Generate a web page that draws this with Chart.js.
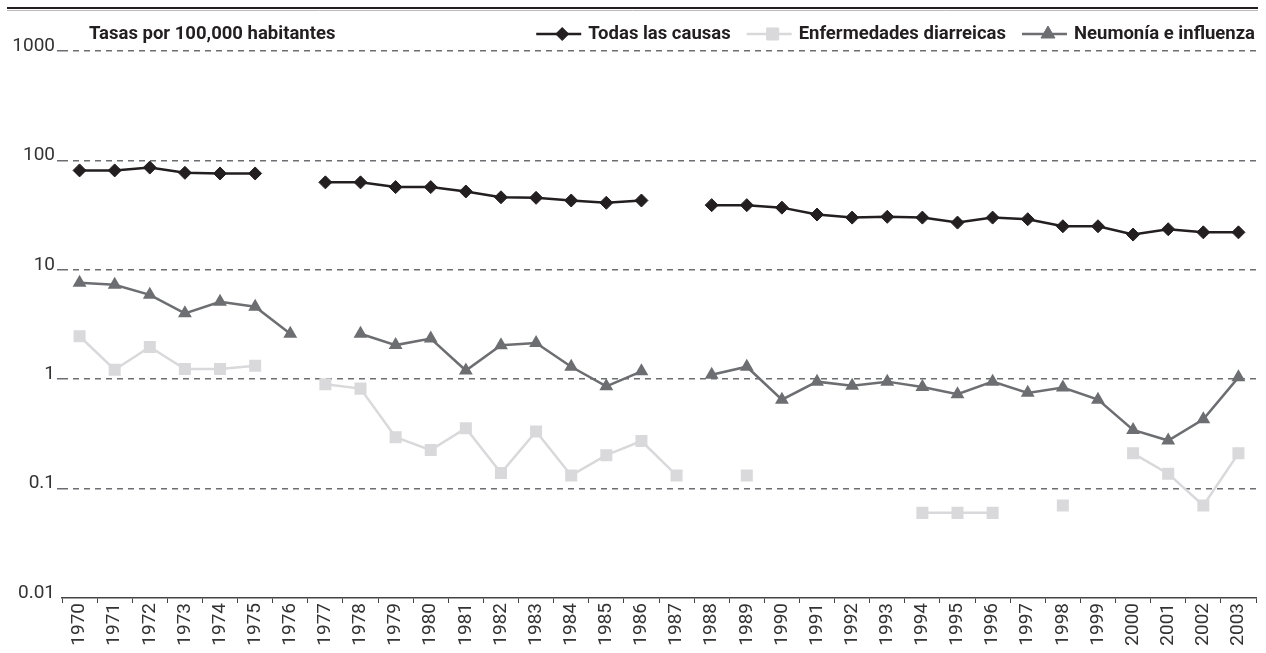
<!DOCTYPE html>
<html><head><meta charset="utf-8">
<script src="https://cdn.jsdelivr.net/npm/chart.js@4.4.0/dist/chart.umd.min.js"></script>
<style>html,body{margin:0;padding:0;background:#fff;}#wrap{width:1266px;height:653px;}</style>
</head><body><div id="wrap"><canvas id="c" width="1266" height="653"></canvas></div>
<script>
const years = ['1970','1971','1972','1973','1974','1975','1976','1977','1978','1979','1980','1981','1982','1983','1984','1985','1986','1987','1988','1989','1990','1991','1992','1993','1994','1995','1996','1997','1998','1999','2000','2001','2002','2003'];
const todasLasCausas = [81,81,86,77,76,76,null,63,63,57,57,52,46,45.5,43,41,43,null,39,39,37,32,30,30.5,30,27,30,29,25,25,21,23.5,22,22];
const enfermedadesDiarreicas = [2.47,1.22,1.97,1.24,1.24,1.33,null,0.9,0.82,0.295,0.225,0.357,0.139,0.333,0.132,0.202,0.272,0.132,null,0.132,null,null,null,null,0.06,0.06,0.06,null,0.07,null,0.21,0.137,0.07,0.21];
const neumoniaInfluenza = [7.6,7.3,5.9,4.0,5.1,4.6,2.6,null,2.6,2.05,2.35,1.2,2.04,2.14,1.3,0.86,1.18,null,1.1,1.3,0.65,0.95,0.87,0.95,0.85,0.73,0.95,0.75,0.84,0.65,0.344,0.275,0.43,1.04];
const yTickValues = [0.01,0.1,1,10,100,1000];
const yTickLabels = ['0.01','0.1','1','10','100','1000'];
const seriesNames = ['Todas las causas','Enfermedades diarreicas','Neumonía e influenza'];
const titleText = 'Tasas por 100,000 habitantes';

const FONT = 'Roboto';

const headerPlugin = {
  id: 'header',
  afterDraw(chart) {
    const ctx = chart.ctx;
    ctx.save();
    ctx.setLineDash([]);
    ctx.strokeStyle = '#231f20'; ctx.lineWidth = 2;
    ctx.beginPath(); ctx.moveTo(7, 8); ctx.lineTo(1258, 8); ctx.stroke();
    ctx.strokeStyle = '#bbbbbb'; ctx.lineWidth = 1;
    ctx.beginPath(); ctx.moveTo(7, 10.5); ctx.lineTo(1258, 10.5); ctx.stroke();
    ctx.font = 'bold 18.5px ' + FONT;
    ctx.fillStyle = '#231f20';
    ctx.textBaseline = 'middle';
    ctx.textAlign = 'left';
    ctx.fillText(titleText, 89, 34);
    // legend, right to left
    let right = 1255;
    const ds = chart.data.datasets;
    for (let i = ds.length - 1; i >= 0; i--) {
      const d = ds[i];
      const w = ctx.measureText(d.label).width;
      const tx = right - w;
      ctx.fillStyle = '#231f20';
      ctx.fillText(d.label, tx, 34);
      ctx.strokeStyle = d.borderColor; ctx.lineWidth = 2.5;
      ctx.beginPath(); ctx.moveTo(tx - 52, 34); ctx.lineTo(tx - 7, 34); ctx.stroke();
      ctx.fillStyle = d.backgroundColor; ctx.strokeStyle = d.backgroundColor; ctx.lineWidth = 1;
      Chart.helpers.drawPoint(ctx, {pointStyle: d.pointStyle, radius: d.pointRadius, rotation: 0, borderWidth: 1}, tx - 26, 34);
      right = tx - 52 - 16;
    }
    ctx.restore();
  }
};

new Chart(document.getElementById('c'), {
  type: 'line',
  data: {
    labels: years,
    datasets: [
      {label: seriesNames[0], data: todasLasCausas, borderColor: '#231f20', backgroundColor: '#231f20', pointStyle: 'rectRot', pointRadius: 6.5, pointBorderWidth: 1, borderWidth: 2.5, spanGaps: false},
      {label: seriesNames[1], data: enfermedadesDiarreicas, borderColor: '#d9d9db', backgroundColor: '#d9d9db', pointStyle: 'rect', pointRadius: 8.5, pointBorderWidth: 0, borderWidth: 2.5, spanGaps: false},
      {label: seriesNames[2], data: neumoniaInfluenza, borderColor: '#6d6e71', backgroundColor: '#6d6e71', pointStyle: 'triangle', pointRadius: 8, pointBorderWidth: 0, borderWidth: 2.5, spanGaps: false}
    ]
  },
  options: {
    responsive: false, animation: false, devicePixelRatio: 1,
    layout: {padding: {top: 51, right: 10, left: 0, bottom: 0}},
    plugins: {legend: {display: false}, tooltip: {enabled: false}},
    scales: {
      x: {
        type: 'category', offset: true,
        grid: {offset: true, drawOnChartArea: false, drawTicks: true, tickLength: 5, color: '#444', lineWidth: 1},
        border: {display: true, color: '#444', width: 1.5},
        ticks: {minRotation: 90, maxRotation: 90, autoSkip: false, font: {family: FONT, size: 19}, color: '#333', padding: 0},
        afterFit(s) { s.height = 55; }
      },
      y: {
        type: 'logarithmic', min: 0.01, max: 1000,
        afterBuildTicks(s) { s.ticks = yTickValues.map(v => ({value: v})); },
        ticks: {
          autoSkip: false,
          callback: (v) => { const i = yTickValues.indexOf(v); return i >= 0 ? yTickLabels[i] : ''; },
          font: {family: FONT, size: 19}, color: '#333', padding: 2, labelOffset: -5
        },
        grid: {color: (c) => (c.tick && c.tick.value === 0.01) ? 'rgba(0,0,0,0)' : '#6d6e71', lineWidth: 1.5, tickLength: 5, drawTicks: true},
        border: {display: false, dash: [6, 5]},
        afterFit(s) { s.width = 62; }
      }
    }
  },
  plugins: [headerPlugin]
});
</script></body></html>
